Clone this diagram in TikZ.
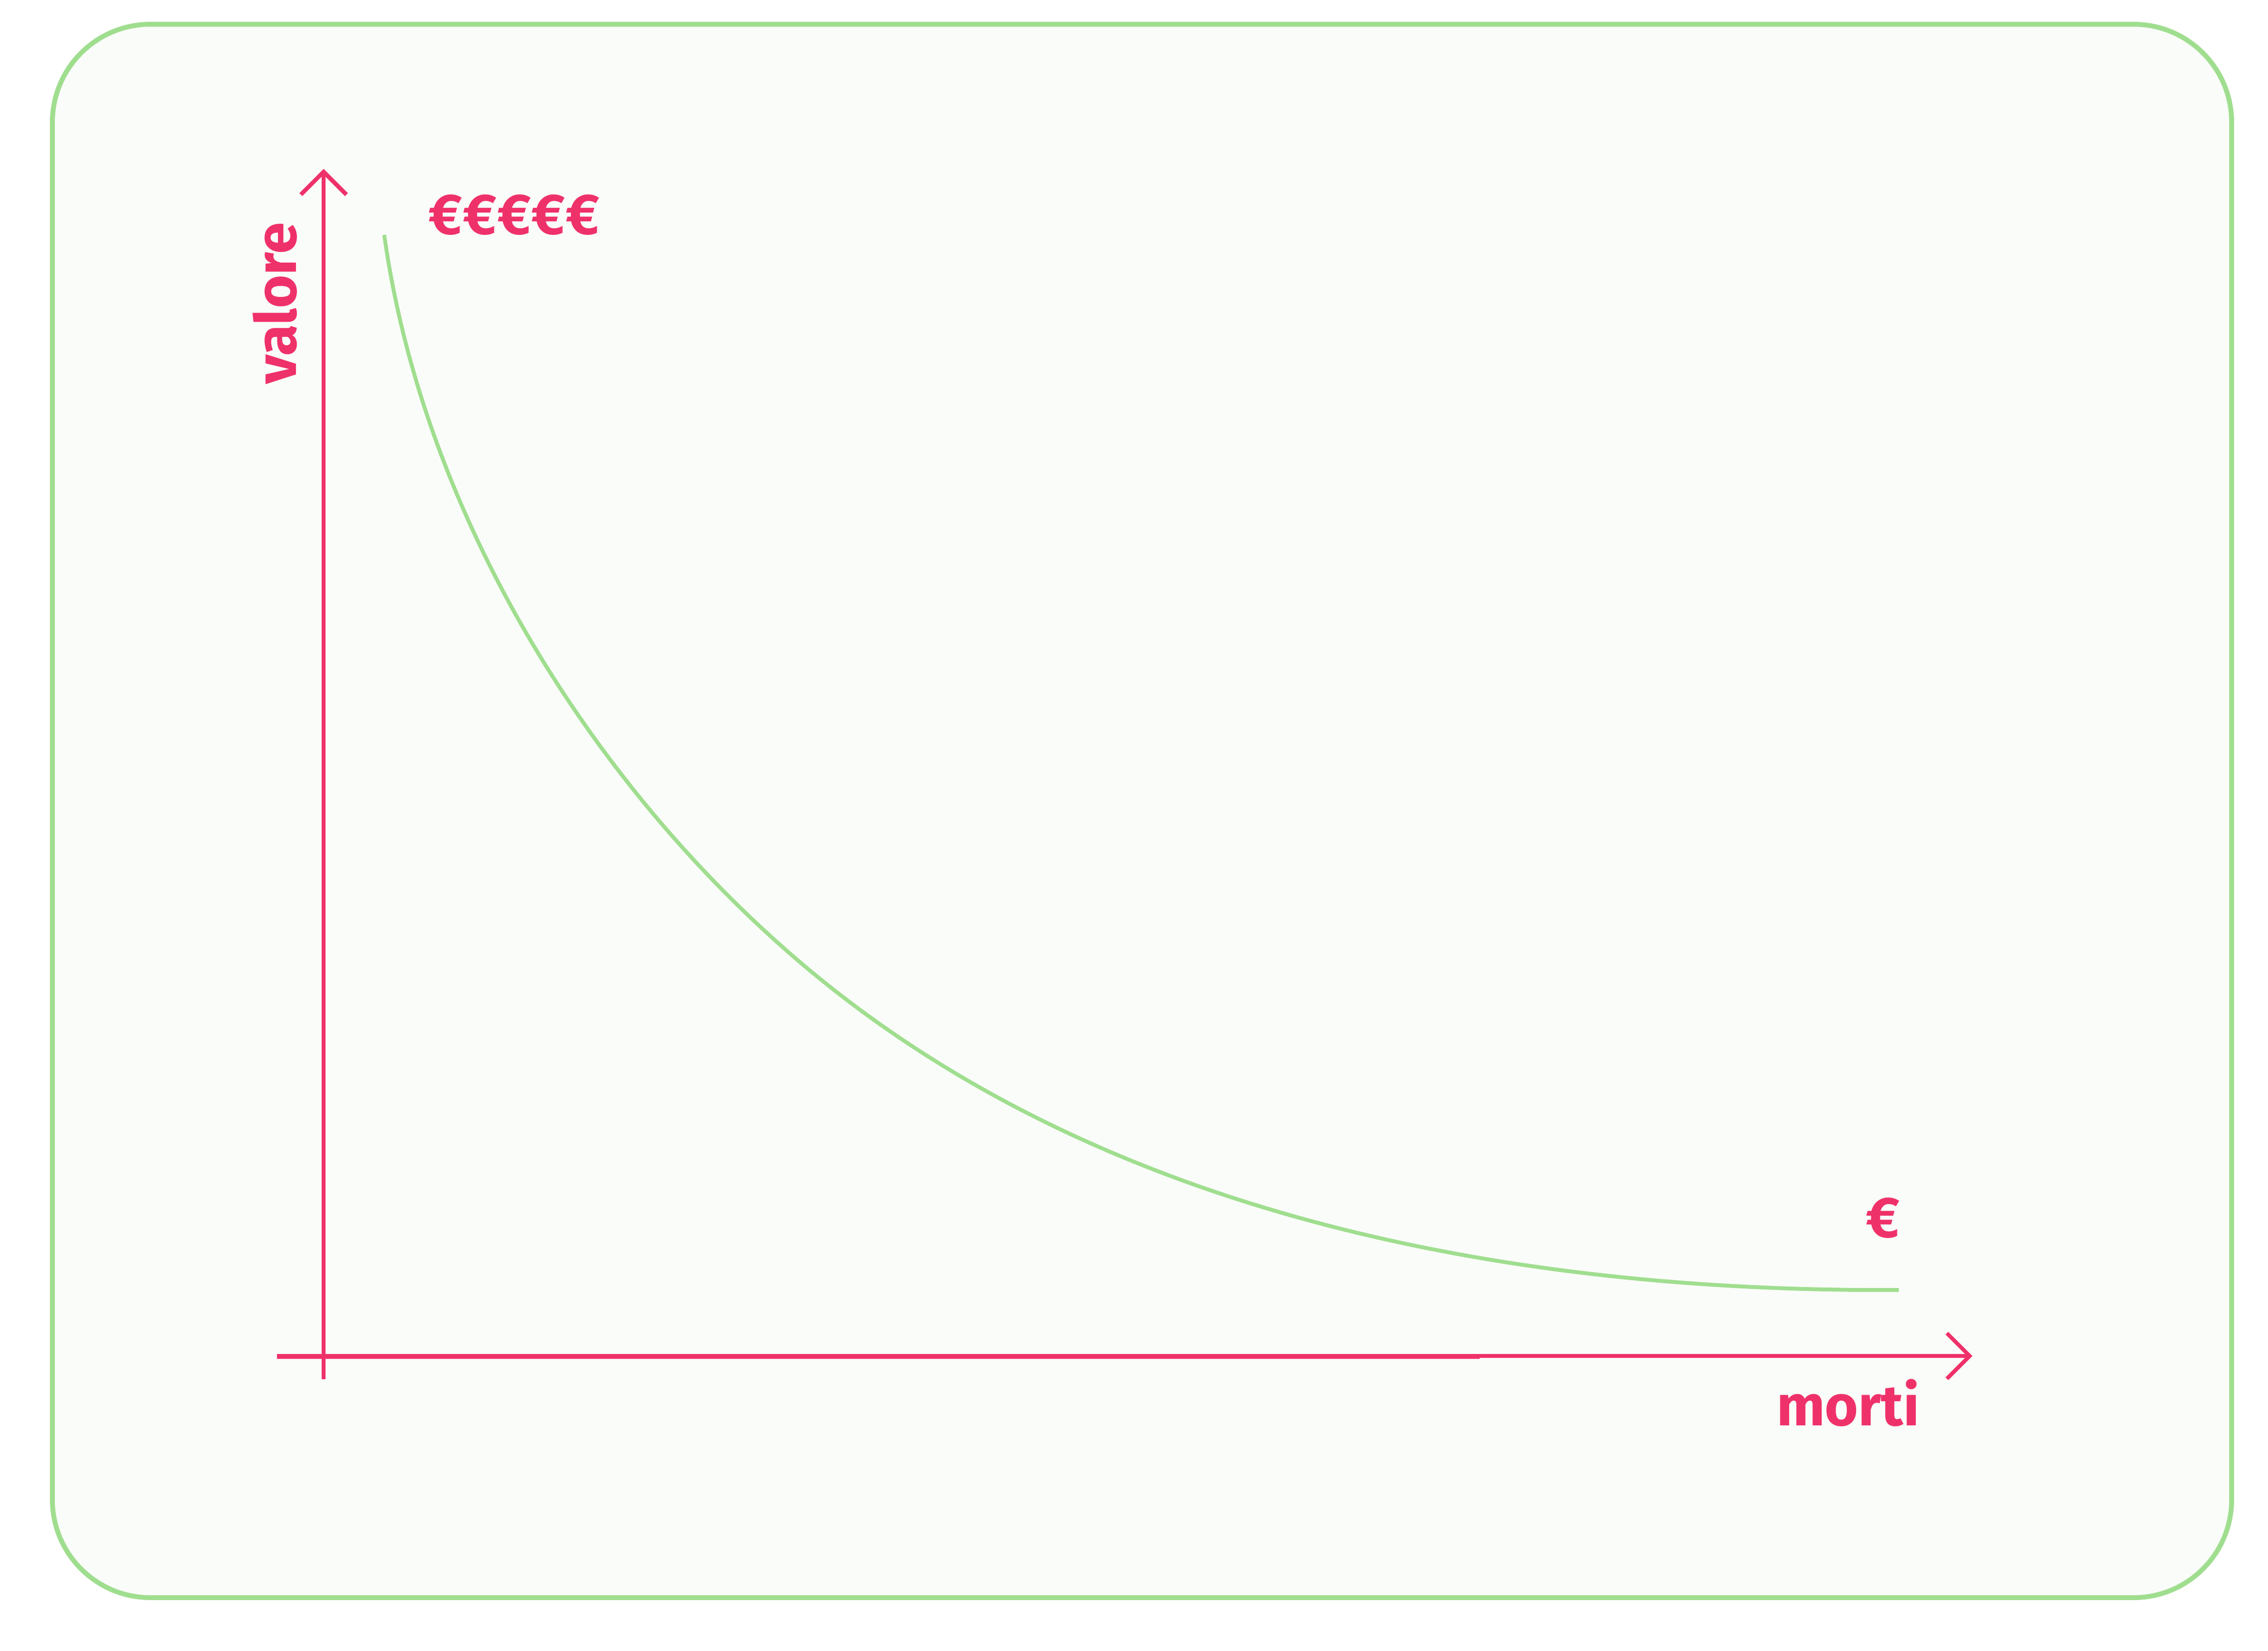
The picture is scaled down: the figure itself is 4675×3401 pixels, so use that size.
\documentclass[tikz,border=0pt]{standalone}
\usepackage{fontspec}
\usetikzlibrary{calc}
\setmainfont{Fira Sans}
\definecolor{pinkc}{RGB}{239,49,106}
\definecolor{greenc}{RGB}{160,222,143}
\definecolor{bgc}{RGB}{250,252,249}
\begin{document}
\begin{tikzpicture}[x=0.1pt,y=-0.1pt,
  frame/.style={draw=greenc,fill=bgc,line width=1pt,rounded corners=20.2pt},
  axisline/.style={draw=pinkc,line width=0.85pt},
  curveline/.style={draw=greenc,line width=0.8pt},
  lbl/.style={text=pinkc,font=\fontsize{11.8pt}{14pt}\selectfont\bfseries,inner sep=0pt}]
\useasboundingbox (0,0) rectangle (4675,3401);
\path[frame] (108,50) rectangle (4600,3292);
% axes
\coordinate (ybot) at (667,2842);
\coordinate (ytop) at (667,354);
\coordinate (xstart) at (571,2794);
\coordinate (xmid) at (3050,2795);
\coordinate (xend) at (4060,2794);
\draw[axisline,line width=1pt] (571,2795) -- (xmid);
\draw[axisline,line width=0.8pt] (xstart) -- (xend);
\draw[axisline,line width=0.8pt,miter limit=10] ($(xend)+(-47,-47)$) -- (xend) -- ($(xend)+(-47,47)$);
\draw[axisline] (ybot) -- (ytop);
\draw[axisline,miter limit=10] ($(ytop)+(-47,47)$) -- (ytop) -- ($(ytop)+(47,47)$);
% curve
\coordinate (cs) at (792,484);
\coordinate (cm) at (1624,1961);
\coordinate (ce) at (3914,2658);
\draw[curveline] (cs) .. controls (870,1043) and (1199,1589) .. (cm)
  .. controls (2240,2501) and (3100,2663) .. (ce);
% labels
\node[lbl,rotate=90,anchor=base] (valore) at (610,625) {valore};
\node[lbl,anchor=base west] (morti) at (3660,2937) {morti};
\node[lbl,anchor=center] (e5) at (1060,443) {€\kern0.1pt€\kern0.1pt€\kern0.1pt€\kern0.1pt€};
\node[lbl,anchor=center] (e1) at (3881,2510) {€};
\end{tikzpicture}
\end{document}
